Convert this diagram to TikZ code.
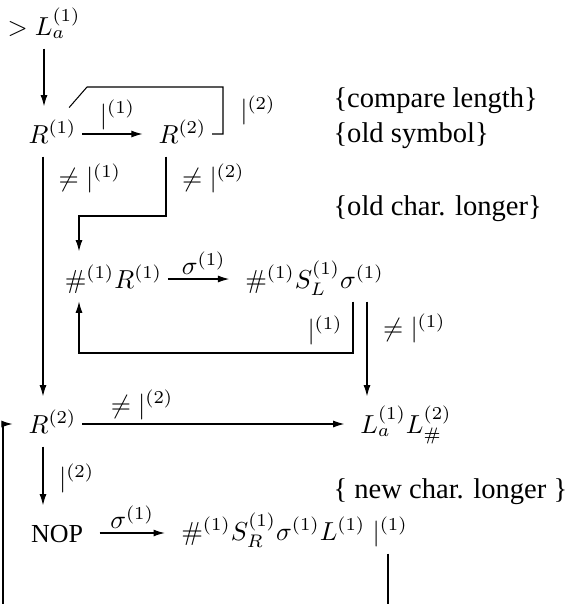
\documentclass[tikz,border=0pt]{standalone}
\usepackage[no-math]{fontspec}
\setmainfont{Liberation Serif}
\usetikzlibrary{arrows.meta}
\tikzset{
  st/.style={text height=10pt,text depth=3pt,inner sep=2pt},
  lab/.style={inner sep=1.5pt},
  dn/.style={->,shorten >=2pt},
  rt/.style={->,shorten >=4pt},
  note/.style={anchor=base west,inner sep=0pt,font=\fontsize{11}{13}\selectfont},
}
\begin{document}
\begin{tikzpicture}[x=0.385pt,y=-0.385pt,>={Latex[length=4.3pt,width=2.7pt]}]
\useasboundingbox (0,0) rectangle (572,604);
% states
\node[st] (lin) at (44,26) {$>L_a^{(1)}$};
\node[st] (ra) at (52.5,134) {$R^{(1)}$};
\node[st] (rb) at (182.5,134) {$R^{(2)}$};
\node[st] (hr) at (113.5,279) {$\#^{(1)}R^{(1)}$};
\node[st] (hs) at (314.5,279) {$\#^{(1)}S_L^{(1)}\sigma^{(1)}$};
\node[st] (rc) at (52.5,424) {$R^{(2)}$};
\node[st] (lL) at (406,424) {$L_a^{(1)}L_\#^{(2)}$};
\node[st] (nop) at (57,533) {NOP};
\node[st] (hb) at (294.5,531) {$\#^{(1)}S_R^{(1)}\sigma^{(1)}L^{(1)}\;|^{(1)}$};
% comments
\node[note] (n1) at (333,107) {\{compare length\}};
\node[note] (n2) at (333,142) {\{old symbol\}};
\node[note] (n3) at (333,215) {\{old char. longer\}};
\node[note] (n4) at (333,498) {\{ new char. longer \}};
% transitions
\draw[dn] (lin) -- (lin |- ra.north);
\draw[rt] (ra) -- node[lab,above]{$|^{(1)}$} (rb);
\draw (rb) -| node[lab,pos=0.75,right=5pt]{$|^{(2)}$} (223,87) -- (87,87) -- ([shift={(-5pt,1.5pt)}]ra.north east);
\draw[dn] (ra.south -| 43,0) -- node[lab,pos=0.09,right=4.3pt]{$\neq|^{(1)}$} (rc.north -| 43,0);
\draw[dn] (rb.south -| 166,0) -- node[lab,pos=0.37,right=4.5pt]{$\neq|^{(2)}$} (166,216) -| (hr.north -| 79,0);
\draw[rt] (hr) -- node[lab,above]{$\sigma^{(1)}$} (hs);
\draw[->] (hs.south -| 353,0) -- node[lab,pos=0.56,left=2.3pt]{$|^{(1)}$} (353,353) -| (hr.south -| 79,0);
\draw[dn] (hs.south -| 367,0) -- node[lab,pos=0.27,right=4.5pt]{$\neq|^{(1)}$} (lL.north -| 367,0);
\draw[rt] (rc) -- node[lab,pos=0.22,above]{$\neq|^{(2)}$} (lL);
\coordinate (loopL) at (3,604);
\draw[rt] (loopL) |- (rc);
\draw[dn] (rc.south -| 43,0) -- node[lab,right=4.5pt]{$|^{(2)}$} (nop.north -| 43,0);
\draw[->,shorten <=4.2pt,shorten >=4.2pt] (nop) -- node[lab,above]{$\sigma^{(1)}$} (hb.west |- nop);
\coordinate (loopR) at (388,604);
\draw (hb.south -| loopR) -- (loopR);
\end{tikzpicture}
\end{document}
